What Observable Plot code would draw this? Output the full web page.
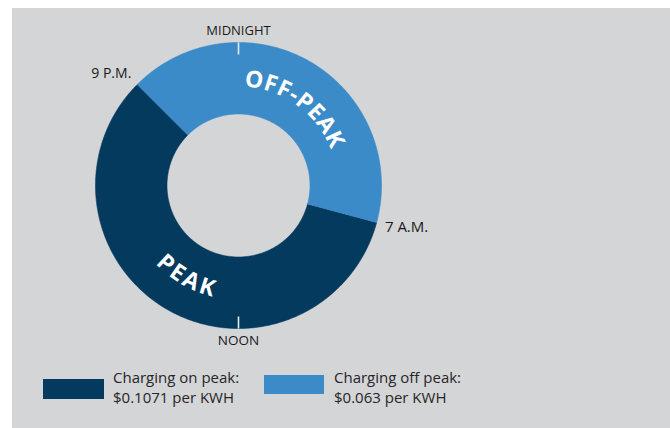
<!DOCTYPE html>
<html><head><meta charset="utf-8">
<script src="https://cdn.jsdelivr.net/npm/d3@7"></script>
<script src="https://cdn.jsdelivr.net/npm/@observablehq/plot@0.6"></script>
<style>
html,body{margin:0;padding:0;background:#fff;width:670px;height:428px;overflow:hidden;font-family:"Open Sans",sans-serif;}
#bg{position:absolute;left:12px;top:8px;width:658px;height:420px;background:#d4d5d7;}
#chart{position:absolute;left:0;top:0;}
.sw{position:absolute;}
.lt{position:absolute;font-size:15px;line-height:20px;color:#262626;white-space:nowrap;}
</style></head>
<body>
<div id="bg"></div>
<div id="chart"></div>
<div id="legend"></div>
<script>
// ---- data ----
const periodNames = ["PEAK", "OFF-PEAK"];
const periodStartHour = [7, 21];
const periodEndHour = [21, 31];          // 31 = 7 A.M. next day
const periodColors = ["#033a5e", "#3b8bc8"];
const legendTitles = ["Charging on peak:", "Charging off peak:"];
const legendRates = [0.1071, 0.063];
const clockHours = [0, 12];
const clockLabels = ["MIDNIGHT", "NOON"];
const boundaryHours = [21, 7];
const boundaryLabels = ["9 P.M.", "7 A.M."];

// ---- layout ----
const W = 670, H = 360, CX = 238, CY = 185, R = 143;
const INNER = 0.5, TEXT_R = 0.745;
const labelShift = {"PEAK": 0, "OFF-PEAK": 0.4}; // hours
const ang = h => h / 24 * 2 * Math.PI;
const px = (h, r) => r * Math.sin(ang(h));
const py = (h, r) => r * Math.cos(ang(h));

const ring = [];
periodNames.forEach((p, i) => {
  const a = periodStartHour[i], b = periodEndHour[i];
  const n = Math.ceil((b - a) / 0.05);
  for (let k = 0; k <= n; k++) { const h = a + (b - a) * k / n; ring.push({period: p, x: px(h, 1), y: py(h, 1)}); }
  for (let k = n; k >= 0; k--) { const h = a + (b - a) * k / n; ring.push({period: p, x: px(h, INNER), y: py(h, INNER)}); }
});

// curved letters
const FONT_SIZE = 23, LS = 1.6;
const ctx = document.createElement("canvas").getContext("2d");
ctx.font = `bold ${FONT_SIZE}px "Open Sans"`;
const letters = [];
periodNames.forEach((p, i) => {
  const mid = (periodStartHour[i] + periodEndHour[i]) / 2 + labelShift[p];
  const chars = [...p];
  const w = chars.map(c => ctx.measureText(c).width);
  const total = d3.sum(w) + LS * (chars.length - 1);
  const top = Math.cos(ang(mid)) > 0;
  let s = -total / 2;
  chars.forEach((c, j) => {
    const cen = s + w[j] / 2; s += w[j] + LS;
    const dh = cen / (TEXT_R * R) / (2 * Math.PI) * 24 * (top ? 1 : -1);
    const h = mid + dh;
    const deg = h / 24 * 360;
    letters.push({c, x: px(h, TEXT_R), y: py(h, TEXT_R), rotate: top ? deg : deg - 180});
  });
});

const chart = Plot.plot({
  width: W, height: H, margin: 0,
  x: {domain: [-CX / R, (W - CX) / R], axis: null},
  y: {domain: [-(H - CY) / R, CY / R], axis: null},
  color: {domain: periodNames, range: periodColors},
  style: {background: "transparent", fontFamily: '"Open Sans", sans-serif', overflow: "visible"},
  marks: [
    Plot.line(ring, {x: "x", y: "y", z: "period", fill: "period", stroke: "period", strokeWidth: 0.6, curve: "linear-closed"}),
    Plot.link(clockHours, {x1: h => px(h, 1), y1: h => py(h, 1), x2: h => px(h, 0.916), y2: h => py(h, 0.916), stroke: "#e4ebf1", strokeWidth: 1.6}),
    Plot.text([0], {x: i => px(clockHours[i], 1.05), y: i => py(clockHours[i], 1.05), text: i => clockLabels[i], lineAnchor: "bottom", fontSize: 13, fill: "#1a1a1a"}),
    Plot.text([1], {x: i => px(clockHours[i], 1.05), y: i => py(clockHours[i], 1.05), text: i => clockLabels[i], lineAnchor: "top", fontSize: 13.5, fill: "#1a1a1a"}),
    Plot.text([0], {x: i => px(boundaryHours[i], 1.06), y: i => py(boundaryHours[i], 1.06), text: i => boundaryLabels[i], textAnchor: "end", lineAnchor: "bottom", fontSize: 14, fill: "#1a1a1a"}),
    Plot.text([1], {x: i => px(boundaryHours[i], 1.06), y: i => py(boundaryHours[i], 1.06), text: i => boundaryLabels[i], textAnchor: "start", lineAnchor: "middle", dy: 2, fontSize: 15, fill: "#1a1a1a"}),
    Plot.text(letters, {x: "x", y: "y", text: "c", rotate: "rotate", fontSize: FONT_SIZE, fontWeight: "bold", fill: "white", lineAnchor: "middle"})
  ]
});
document.getElementById("chart").appendChild(chart);

// legend (HTML)
const lg = document.getElementById("legend");
const legendLayout = [{sx: 43, sy: 379, sw: 61, sh: 20, tx: 113}, {sx: 264, sy: 375, sw: 60, sh: 19, tx: 334}];
periodNames.forEach((p, i) => {
  const L = legendLayout[i];
  const sw = document.createElement("div");
  sw.className = "sw";
  Object.assign(sw.style, {left: L.sx + "px", top: L.sy + "px", width: L.sw + "px", height: L.sh + "px", background: periodColors[i]});
  lg.appendChild(sw);
  const t = document.createElement("div");
  t.className = "lt";
  Object.assign(t.style, {left: L.tx + "px", top: "367px"});
  t.innerHTML = `${legendTitles[i]}<br>$${legendRates[i]} per KWH`;
  lg.appendChild(t);
});
</script>
</body></html>
